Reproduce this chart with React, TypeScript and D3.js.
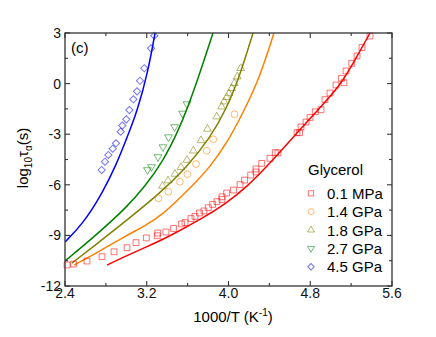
import React, { useEffect, useRef } from "react";
import * as d3 from "d3";

const W = 436;
const H = 337;

const xTicks = [2.4, 3.2, 4.0, 4.8, 5.6];
const yTicks = [-12, -9, -6, -3, 0, 3];

const seriesLabels = ["0.1 MPa", "1.4 GPa", "1.8 GPa", "2.7 GPa", "4.5 GPa"];
const seriesColors = ["#ff0000", "#ff8000", "#808000", "#008000", "#0000ff"];

// measured points: [1000/T, log10 tau]
const pts01MPa: [number, number][] = [
  [2.42, -10.75], [2.483, -10.7], [2.615, -10.52], [2.762, -10.26], [2.88, -9.97],
  [3.007, -9.73], [3.095, -9.43], [3.196, -9.15], [3.303, -9.02], [3.308, -8.86],
  [3.388, -8.8], [3.462, -8.59], [3.54, -8.32], [3.574, -8.24], [3.633, -8.0],
  [3.672, -7.87], [3.716, -7.67], [3.76, -7.55], [3.802, -7.36], [3.845, -7.16],
  [3.887, -7.0], [3.936, -6.87], [3.936, -6.71], [3.982, -6.49], [4.049, -6.31],
  [4.113, -5.99], [4.157, -5.72], [4.217, -5.42], [4.269, -5.24], [4.269, -5.06],
  [4.325, -4.73], [4.406, -4.43], [4.458, -4.09], [4.484, -4.11], [4.67, -2.91],
  [4.695, -2.91], [4.71, -2.57], [4.759, -2.28], [4.798, -2.01], [4.849, -1.67],
  [4.905, -1.55], [4.944, -0.95], [4.993, -0.56], [5.052, -0.08], [5.106, 0.31],
  [5.13, 0.05], [5.15, 0.75], [5.206, 1.2], [5.258, 1.64], [5.306, 2.14], [5.385, 2.82],
];
const pts14GPa: [number, number][] = [
  [3.315, -6.8], [3.411, -6.41], [3.525, -5.82], [3.597, -5.37], [3.682, -4.77],
  [3.787, -3.98], [3.851, -3.3], [4.059, -1.82],
];
const pts18GPa: [number, number][] = [
  [3.354, -6.07], [3.408, -5.75], [3.476, -5.36], [3.535, -4.96], [3.594, -4.53],
  [3.656, -3.98], [3.731, -3.37], [3.794, -2.69], [3.885, -1.96], [3.933, -1.37],
  [3.956, -1.07], [3.982, -0.81], [4.005, -0.58], [4.031, -0.28], [4.057, 0.02],
  [4.086, 0.41], [4.119, 0.91],
];
const pts27GPa: [number, number][] = [
  [3.207, -5.12], [3.246, -4.94], [3.31, -4.35], [3.359, -3.76], [3.413, -3.17],
  [3.472, -2.57], [3.55, -1.77], [3.594, -1.21],
];
const pts45GPa: [number, number][] = [
  [2.759, -5.12], [2.791, -4.63], [2.824, -4.23], [2.867, -3.86], [2.899, -3.54],
  [2.945, -2.85], [2.961, -2.49], [3.0, -2.12], [3.03, -1.57], [3.069, -0.93],
  [3.105, -0.46], [3.134, 0.17], [3.176, 0.91], [3.242, 2.09], [3.274, 2.84],
];

// fitted curves
const fit01MPa: [number, number][] = [
  [2.811, -10.76], [2.987, -10.25], [3.183, -9.72], [3.428, -9.04], [3.75, -7.97],
  [3.966, -7.14], [4.181, -6.13], [4.435, -4.53], [4.67, -2.93], [4.866, -1.62],
  [5.091, -0.14], [5.238, 1.4], [5.385, 3.0],
];
const fit14GPa: [number, number][] = [
  [2.488, -10.76], [2.674, -10.16], [3.007, -8.98], [3.183, -8.44], [3.349, -7.79],
  [3.545, -6.66], [3.672, -5.89], [3.819, -4.94], [3.985, -3.52], [4.142, -1.74],
  [4.308, 0.39], [4.445, 3.0],
];
const fit18GPa: [number, number][] = [
  [2.468, -10.64], [2.684, -9.63], [3.007, -8.09], [3.33, -6.49], [3.584, -5.0],
  [3.819, -3.23], [3.985, -1.45], [4.113, 0.51], [4.24, 3.0],
];
const fit27GPa: [number, number][] = [
  [2.4, -10.52], [2.694, -9.04], [3.007, -7.32], [3.183, -6.07], [3.349, -4.71],
  [3.525, -2.63], [3.672, -0.26], [3.848, 3.0],
];
const fit45GPa: [number, number][] = [
  [2.4, -9.39], [2.566, -8.38], [2.762, -6.55], [2.909, -4.71], [2.997, -3.34],
  [3.105, -1.68], [3.212, 0.69], [3.281, 3.0],
];

const seriesPoints = [pts01MPa, pts14GPa, pts18GPa, pts27GPa, pts45GPa];
const seriesFits = [fit01MPa, fit14GPa, fit18GPa, fit27GPa, fit45GPa];

const FONT = "Arial, 'Liberation Sans', sans-serif";

// marker path + rotation for each series
const markerFor = (i: number, scale = 1) => {
  if (i === 0) return { d: d3.symbol(d3.symbolSquare, 34 * scale)(), rot: 0 };
  if (i === 1) return { d: d3.symbol(d3.symbolCircle, 36 * scale)(), rot: 0 };
  if (i === 2) return { d: d3.symbol(d3.symbolTriangle, 26 * scale)(), rot: 0 };
  if (i === 3) return { d: d3.symbol(d3.symbolTriangle, 26 * scale)(), rot: 180 };
  return { d: d3.symbol(d3.symbolSquare, 26 * scale)(), rot: 45 };
};

const GlycerolChart = () => {
  const svgRef = useRef<SVGSVGElement>(null);

  useEffect(() => {
    const svg = d3.select(svgRef.current);
    svg.selectAll("*").remove();

    const left = 65, right = 392, top = 33, bottom = 286;
    const x = d3.scaleLinear().domain([2.4, 5.6]).range([left, right]);
    const y = d3.scaleLinear().domain([-12, 3]).range([bottom, top]);

    svg.append("rect").attr("width", W).attr("height", H).attr("fill", "#fff");

    svg.append("clipPath").attr("id", "plot-clip")
      .append("rect")
      .attr("x", left).attr("y", top)
      .attr("width", right - left).attr("height", bottom - top);

    // fit lines
    const line = d3.line<[number, number]>()
      .x((d) => x(d[0]))
      .y((d) => y(d[1]))
      .curve(d3.curveBasis);

    const lines = svg.append("g").attr("clip-path", "url(#plot-clip)");
    seriesFits.forEach((fit, i) => {
      lines.append("path")
        .datum(fit)
        .attr("fill", "none")
        .attr("stroke", seriesColors[i])
        .attr("stroke-width", 1.5)
        .attr("d", line);
    });

    // markers
    seriesPoints.forEach((pts, i) => {
      const m = markerFor(i);
      svg.append("g")
        .selectAll("path")
        .data(pts)
        .enter()
        .append("path")
        .attr("d", m.d)
        .attr("transform", (d) => `translate(${x(d[0])},${y(d[1])}) rotate(${m.rot})`)
        .attr("fill", "none")
        .attr("stroke", seriesColors[i])
        .attr("stroke-opacity", 0.55)
        .attr("stroke-width", 1);
    });

    // frame
    const axisColor = "#333";
    svg.append("rect")
      .attr("x", left).attr("y", top)
      .attr("width", right - left).attr("height", bottom - top)
      .attr("fill", "none").attr("stroke", axisColor).attr("stroke-width", 1.3);

    const ticks = svg.append("g").attr("stroke", axisColor).attr("stroke-width", 1.1);
    const xMinor = d3.range(2.4, 5.6001, 0.4);
    xMinor.forEach((v, k) => {
      const len = k % 2 === 0 ? 5 : 3;
      ticks.append("line").attr("x1", x(v)).attr("x2", x(v)).attr("y1", bottom).attr("y2", bottom - len);
      ticks.append("line").attr("x1", x(v)).attr("x2", x(v)).attr("y1", top).attr("y2", top + len);
    });
    const yMinor = d3.range(-12, 3.001, 1.5);
    yMinor.forEach((v, k) => {
      const len = k % 2 === 0 ? 5 : 3;
      ticks.append("line").attr("y1", y(v)).attr("y2", y(v)).attr("x1", left).attr("x2", left + len);
      ticks.append("line").attr("y1", y(v)).attr("y2", y(v)).attr("x1", right).attr("x2", right - len);
    });

    // tick labels
    svg.append("g")
      .selectAll("text")
      .data(xTicks)
      .enter()
      .append("text")
      .attr("x", (d) => x(d))
      .attr("y", 298)
      .attr("text-anchor", "middle")
      .attr("font-family", FONT)
      .attr("font-size", 14)
      .attr("fill", "#111")
      .text((d) => d3.format(".1f")(d));

    svg.append("g")
      .selectAll("text")
      .data(yTicks)
      .enter()
      .append("text")
      .attr("x", 61)
      .attr("y", (d) => y(d) + 5)
      .attr("text-anchor", "end")
      .attr("font-family", FONT)
      .attr("font-size", 14)
      .attr("fill", "#111")
      .text((d) => String(d));

    // panel label
    svg.append("text")
      .attr("x", 71).attr("y", 53)
      .attr("font-family", FONT).attr("font-size", 15)
      .text("(c)");

    // x title
    const xt = svg.append("text")
      .attr("x", 233).attr("y", 322)
      .attr("text-anchor", "middle")
      .attr("font-family", FONT).attr("font-size", 15);
    xt.append("tspan").text("1000/T (K");
    xt.append("tspan").attr("font-size", 10).attr("dy", -6).text("-1");
    xt.append("tspan").attr("dy", 6).text(")");

    // y title
    const yt = svg.append("text")
      .attr("transform", `translate(28,158) rotate(-90)`)
      .attr("text-anchor", "middle")
      .attr("font-family", FONT).attr("font-size", 15);
    yt.append("tspan").text("log");
    yt.append("tspan").attr("font-size", 10).attr("dy", 4).text("10");
    yt.append("tspan").attr("dy", -4).text("τ");
    yt.append("tspan").attr("font-size", 10).attr("dy", 4).text("α");
    yt.append("tspan").attr("dy", -4).text("(s)");

    // legend
    const lg = svg.append("g");
    lg.append("text")
      .attr("x", 308).attr("y", 175)
      .attr("font-family", FONT).attr("font-size", 15)
      .text("Glycerol");
    seriesLabels.forEach((lab, i) => {
      const cy = 193.3 + i * 18.35;
      const m = markerFor(i, 0.8);
      lg.append("path")
        .attr("d", m.d)
        .attr("transform", `translate(311,${cy}) rotate(${m.rot})`)
        .attr("fill", "none")
        .attr("stroke", seriesColors[i])
        .attr("stroke-opacity", 0.55)
        .attr("stroke-width", 1);
      lg.append("text")
        .attr("x", 327).attr("y", cy + 5.5)
        .attr("font-family", FONT).attr("font-size", 15)
        .text(lab);
    });
  }, []);

  return (
    <svg
      ref={svgRef}
      width={W}
      height={H}
      style={{ position: "absolute", left: 0, top: 0, display: "block" }}
    />
  );
};

export default function App() {
  return <GlycerolChart />;
}
